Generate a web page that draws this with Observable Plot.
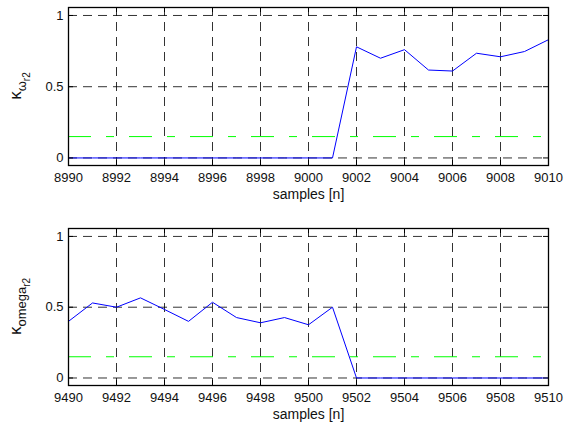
<!DOCTYPE html>
<html><head><meta charset="utf-8">
<script src="https://cdn.jsdelivr.net/npm/d3@7"></script>
<script src="https://cdn.jsdelivr.net/npm/@observablehq/plot@0.6"></script>
<style>body{margin:0;background:#fff;} #c{width:564px;height:426px;} #c svg{display:block;}</style>
</head><body><div id="c"></div>
<script>
// ---- data ----
const samplesTop = [8990,8991,8992,8993,8994,8995,8996,8997,8998,8999,9000,9001,9002,9003,9004,9005,9006,9007,9008,9009,9010];
const kappaTop   = [0,0,0,0,0,0,0,0,0,0,0,0,0.78,0.70,0.76,0.617,0.61,0.735,0.71,0.747,0.83];
const samplesBottom = [9490,9491,9492,9493,9494,9495,9496,9497,9498,9499,9500,9501,9502,9503,9504,9505,9506,9507,9508,9509,9510];
const kappaBottom   = [0.40,0.53,0.50,0.566,0.484,0.40,0.535,0.427,0.39,0.427,0.376,0.50,0,0,0,0,0,0,0,0,0];
const threshold = 0.15;
const xTicksTop = [8990,8992,8994,8996,8998,9000,9002,9004,9006,9008,9010];
const xTicksBottom = [9490,9492,9494,9496,9498,9500,9502,9504,9506,9508,9510];
const yTicks = [0, 0.5, 1];
const yTickLabels = ["0", "0.5", "1"];
const xLabel = "samples [n]";
const yLabelMain = "κ";
const yLabelSubTop = "ω";
const yLabelSubBottom = "omega";
const yLabelSubSub = "r2";

function panel(samples, values, xTicks, sub, height, marginTop, marginBottom) {
  const W = 564, mL = 68, mR = 16;
  const innerH = height - marginTop - marginBottom;
  const innerW = W - mL - mR;
  const data = samples.map((s, i) => ({s, v: values[i]}));
  const grid = {stroke: "black", strokeOpacity: 0.8, strokeDasharray: "9,6", strokeWidth: 1};
  const svg = Plot.plot({
    width: W, height, marginLeft: mL, marginRight: mR, marginTop, marginBottom,
    style: {fontFamily: "'Liberation Sans', Arial, sans-serif", fontSize: "13px", color: "black", background: "white"},
    x: {domain: [xTicks[0], xTicks[xTicks.length - 1]]},
    y: {domain: [-0.053, 1.056]},
    marks: [
      Plot.gridX(xTicks, grid),
      Plot.gridY(yTicks, grid),
      Plot.ruleY([threshold], {stroke: "#00ff00", strokeWidth: 1, strokeDasharray: "23,15,8,15"}),
      Plot.line(data, {x: "s", y: "v", stroke: "#0000ff", strokeWidth: 1}),
      Plot.axisX(xTicks, {tickSize: 0, tickPadding: 7, label: null, tickFormat: d => String(d), fill: "#111"}),
      Plot.axisY(yTicks, {tickSize: 0, tickPadding: 5, label: null, tickFormat: (d, i) => yTickLabels[i], fill: "#111"}),
      Plot.tickX(xTicks, {x: d => d, insetTop: innerH - 5, stroke: "black"}),
      Plot.tickX(xTicks, {x: d => d, insetBottom: innerH - 5, stroke: "black"}),
      Plot.tickY(yTicks, {y: d => d, insetLeft: innerW - 5, stroke: "black"}),
      Plot.tickY(yTicks, {y: d => d, insetRight: innerW - 5, stroke: "black"}),
      Plot.frame({stroke: "black", strokeWidth: 1.3}),
      Plot.text([xLabel], {frameAnchor: "bottom", dy: 33, text: d => d, fontSize: 14, fill: "#111"})
    ]
  });
  const cy = (marginTop + height - marginBottom) / 2;
  const t = d3.select(svg).append("text")
    .attr("transform", `translate(21,${cy}) rotate(-90)`)
    .attr("text-anchor", "middle")
    .attr("font-size", 17)
    .attr("fill", "#111");
  t.append("tspan").text(yLabelMain);
  t.append("tspan").attr("font-size", 13).attr("dy", 5).text(sub);
  t.append("tspan").attr("font-size", 10).attr("dy", 4).text(yLabelSubSub);
  return svg;
}

const c = document.getElementById("c");
c.appendChild(panel(samplesTop, kappaTop, xTicksTop, yLabelSubTop, 210, 7, 45));
c.appendChild(panel(samplesBottom, kappaBottom, xTicksBottom, yLabelSubBottom, 216, 18, 41));
</script>
</body></html>
